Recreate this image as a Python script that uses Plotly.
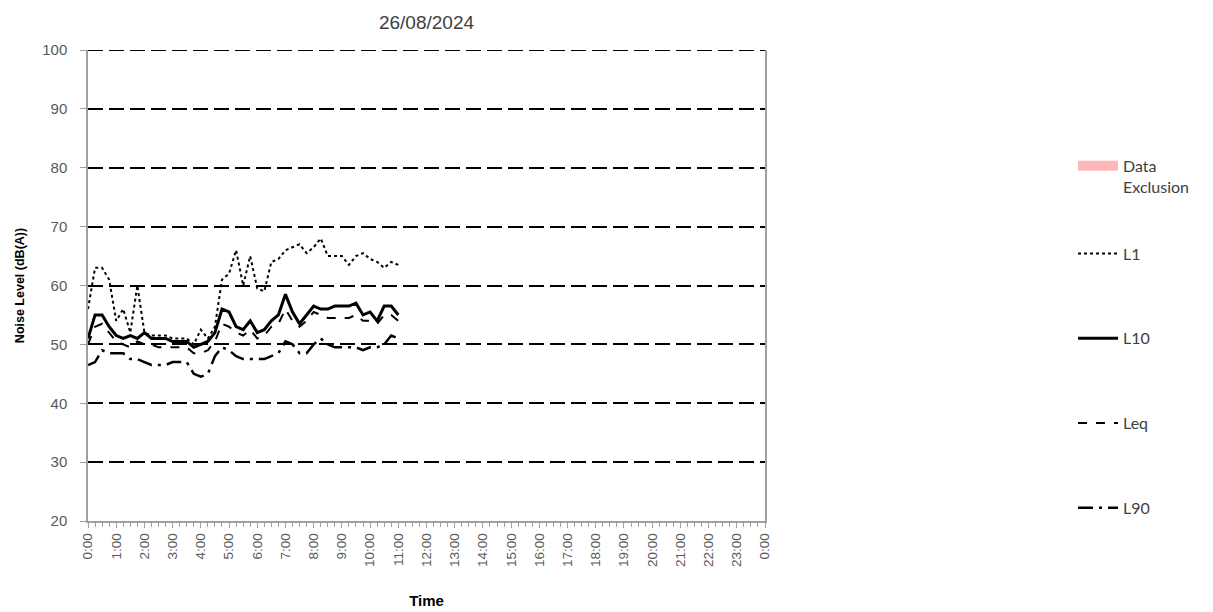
import plotly.graph_objects as go

times = ["0:00","0:15","0:30","0:45","1:00","1:15","1:30","1:45","2:00","2:15","2:30","2:45",
         "3:00","3:15","3:30","3:45","4:00","4:15","4:30","4:45","5:00","5:15","5:30","5:45",
         "6:00","6:15","6:30","6:45","7:00","7:15","7:30","7:45","8:00","8:15","8:30","8:45",
         "9:00","9:15","9:30","9:45","10:00","10:15","10:30","10:45","11:00"]

l1 = [56, 63, 63, 61, 54, 56, 52, 60, 52, 51.5, 51.5, 51.5,
      51, 51, 51, 50, 52.5, 51, 53, 61, 62, 66, 60, 65,
      59.5, 59, 64, 64.5, 66, 66.5, 67, 65.5, 66.5, 68, 65, 65,
      65, 63.5, 65, 65.5, 64.5, 64, 63, 64, 63.5]
l10 = [51, 55, 55, 53, 51.5, 51, 51.5, 51, 52, 51, 51, 51,
       50.5, 50.5, 50.5, 49.5, 50, 50.5, 52, 56, 55.5, 53, 52.5, 54,
       52, 52.5, 54, 55, 58.5, 55.5, 53.5, 55, 56.5, 56, 56, 56.5,
       56.5, 56.5, 57, 55, 55.5, 54, 56.5, 56.5, 55]
leq = [50, 53, 53.5, 52, 50.5, 50, 49.5, 50.5, 50, 50, 49.5, 49.5,
       49.5, 49.5, 49.5, 48.5, 48.5, 49, 50.5, 53.5, 53, 52, 51.5, 52.5,
       51, 51.5, 53, 53.5, 56, 54, 53, 54, 55.5, 55, 54.5, 54.5,
       54.5, 54.5, 55, 54, 54, 53.5, 55, 55, 54]
l90 = [46.5, 47, 49, 48.5, 48.5, 48.5, 47.5, 47.5, 47, 46.5, 46.5, 46.5,
       47, 47, 47, 45, 44.5, 45, 48, 49.5, 49, 48, 47.5, 47.5,
       47.5, 47.5, 48, 48.5, 50.5, 50, 48.5, 48.5, 50, 51, 50, 49.5,
       49.5, 49.5, 49.5, 49, 49.5, 49.5, 50, 51.5, 51]

tick_hours = list(range(25))
tick_labels = [f"{h % 24}:00" for h in tick_hours]
y_ticks = [20, 30, 40, 50, 60, 70, 80, 90, 100]


def to_hours(t):
    h, m = t.split(":")
    return int(h) + int(m) / 60.0


x = [to_hours(t) for t in times]

fig = go.Figure()

fig.add_trace(go.Scatter(x=[0], y=[0], mode="lines", name="Data<br>Exclusion",
                         line=dict(color="#FFB8B8", width=10), legend="legend",
                         showlegend=True, hoverinfo="skip"))
fig.add_trace(go.Scatter(x=x, y=l1, mode="lines", name="L1",
                         line=dict(color="black", width=2, dash="dot"), legend="legend2",
                         legendgroup="a"))
fig.add_trace(go.Scatter(x=x, y=l10, mode="lines", name="L10",
                         line=dict(color="black", width=3), legend="legend2",
                         legendgroup="b"))
fig.add_trace(go.Scatter(x=x, y=leq, mode="lines", name="Leq",
                         line=dict(color="black", width=2, dash="dash"), legend="legend2",
                         legendgroup="c"))
fig.add_trace(go.Scatter(x=x, y=l90, mode="lines", name="L90",
                         line=dict(color="black", width=2.5, dash="longdashdot"), legend="legend2",
                         legendgroup="d"))

# top gridline (plotly skips the gridline at the range edge)
fig.add_shape(type="line", xref="paper", yref="y", x0=0, x1=1, y0=100, y1=100,
              line=dict(color="black", width=2, dash="15px,6px"), layer="below")

fig.update_layout(
    width=1213, height=612,
    margin=dict(l=80, r=456, t=42, b=99, autoexpand=False),
    paper_bgcolor="white", plot_bgcolor="white",
    showlegend=True,
    font=dict(family="Liberation Sans, Arial, sans-serif", color="#404040", size=13),
    title=dict(text="26/08/2024", x=(80 + 757) / 2 / 1213, xanchor="center", y=1 - 14 / 612,
               yanchor="middle", font=dict(size=19, color="#404040")),
    xaxis=dict(range=[0, 24], tickvals=tick_hours, ticktext=tick_labels, tickangle=-90,
               showgrid=False, zeroline=False, showline=True, linecolor="#a0a0a0", linewidth=1.5,
               ticks="outside", ticklen=5, tickcolor="#a0a0a0", automargin=False,
               minor=dict(dtick=0.25, ticks="outside", ticklen=4, tickcolor="#a0a0a0"),
               tickfont=dict(size=13.5, color="#595959"),
               title=dict(text="<b>Time</b>", font=dict(size=15, color="black"), standoff=30)),
    yaxis=dict(range=[20, 100], tickvals=y_ticks, showgrid=True, gridcolor="black", gridwidth=2,
               griddash="15px,6px", zeroline=False, showline=True, linecolor="#a0a0a0",
               linewidth=1.5, mirror=True, ticks="outside", ticklen=6, tickcolor="#a0a0a0",
               ticklabelstandoff=10, automargin=False,
               tickfont=dict(size=15, color="#595959"),
               title=dict(text="<b>Noise Level (dB(A))</b>", font=dict(size=12.5, color="black"),
                          standoff=15)),
    legend=dict(x=1.455, y=0.79, xanchor="left", yanchor="top", valign="top",
                font=dict(family="Lato, sans-serif", size=16, color="#404040"),
                bgcolor="rgba(0,0,0,0)", itemwidth=40),
    legend2=dict(x=1.455, y=0.604, xanchor="left", yanchor="top", tracegroupgap=61,
                 font=dict(family="Lato, sans-serif", size=16, color="#404040"),
                 bgcolor="rgba(0,0,0,0)", itemwidth=40),
)

fig.write_html("out.html")
